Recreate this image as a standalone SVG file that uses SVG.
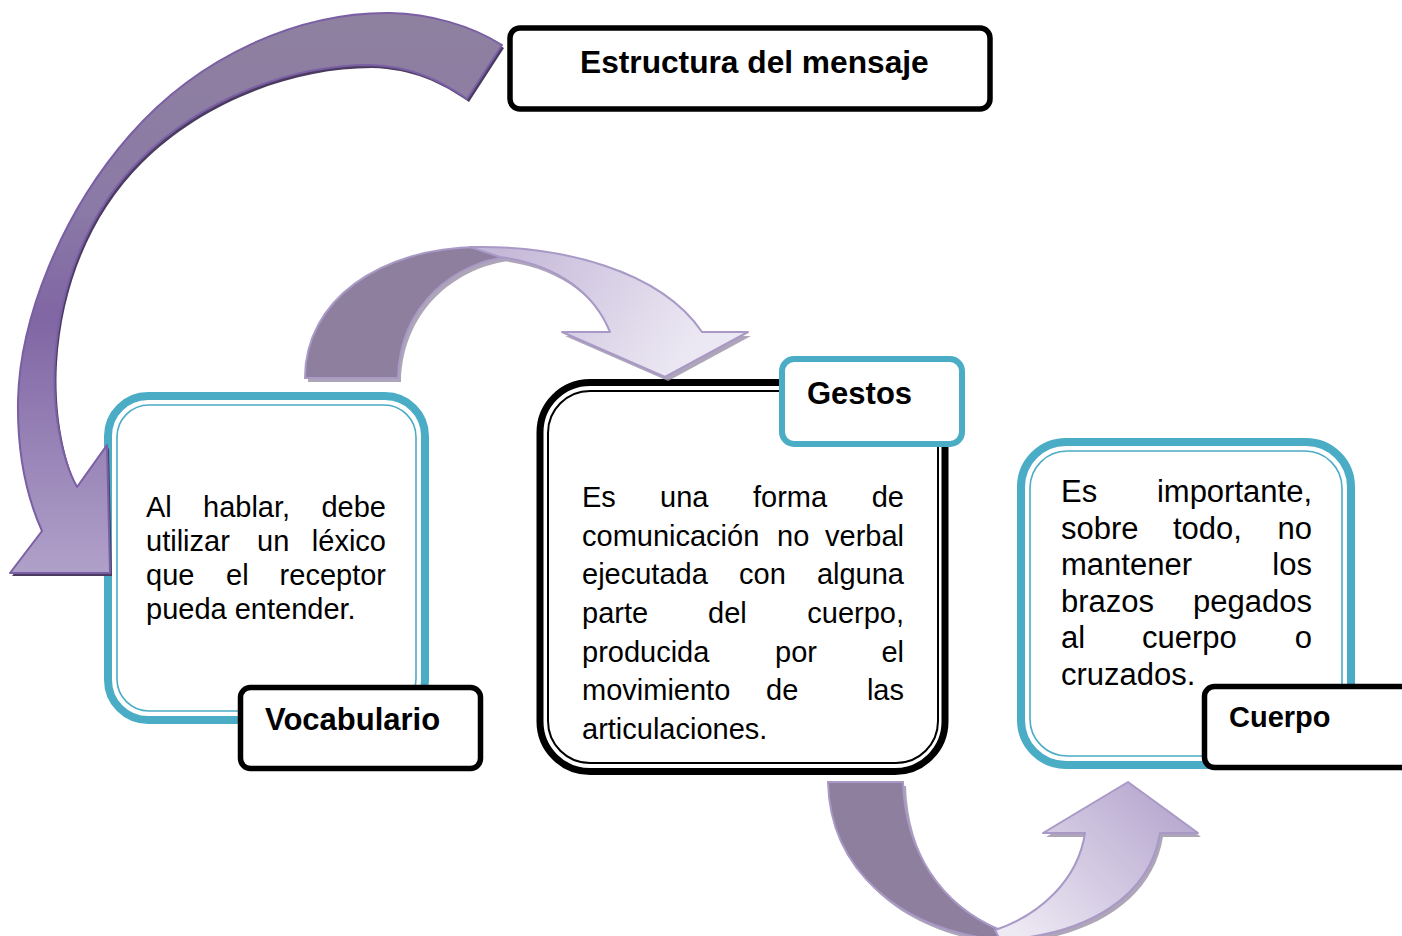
<svg xmlns="http://www.w3.org/2000/svg" width="1402" height="936" viewBox="0 0 1402 936">
<defs>
<linearGradient id="gBig" gradientUnits="userSpaceOnUse" x1="0" y1="0" x2="0" y2="580">
<stop offset="0" stop-color="#8f819f"/>
<stop offset="0.35" stop-color="#8b7aa6"/>
<stop offset="0.55" stop-color="#8066a4"/>
<stop offset="1" stop-color="#b1a2ca"/>
</linearGradient>
<linearGradient id="gMid" gradientUnits="userSpaceOnUse" x1="500" y1="250" x2="680" y2="370">
<stop offset="0" stop-color="#c4b8d8"/>
<stop offset="1" stop-color="#ece8f3"/>
</linearGradient>
<linearGradient id="gBot" gradientUnits="userSpaceOnUse" x1="1010" y1="930" x2="1150" y2="790">
<stop offset="0" stop-color="#eeeaf4"/>
<stop offset="1" stop-color="#b9abd1"/>
</linearGradient>
<style>
.teal{fill:#fff;stroke:#4bacc6;stroke-width:8}
.tealthin{fill:none;stroke:#4bacc6;stroke-width:1.6}
.lbl{fill:#fff;stroke:#000;stroke-width:5.5}
.body{font-family:"Liberation Sans",Arial,sans-serif;fill:#000}
.head{font-family:"Liberation Sans",Arial,sans-serif;font-weight:bold;fill:#000}
.dark{fill:#8e7f9e;stroke:#a899c6;stroke-width:2}
.shadow{fill:#9a90a6;opacity:0.8}
</style>
</defs>

<g id="title">
<rect class="lbl" x="510" y="28" width="480" height="81" rx="10" stroke-width="6"/>
<text class="head" x="580" y="73" font-size="31.7">Estructura del mensaje</text>
</g>

<g id="vocabulario">
<rect class="teal" x="108" y="396" width="317" height="324" rx="40"/>
<rect class="tealthin" x="117" y="405" width="299" height="306" rx="32"/>
<g class="body" font-size="29">
<text x="146" y="517">Al</text><text x="203" y="517">hablar,</text><text x="386" y="517" text-anchor="end">debe</text>
<text x="146" y="551">utilizar</text><text x="257" y="551">un</text><text x="386" y="551" text-anchor="end">léxico</text>
<text x="146" y="585">que</text><text x="226" y="585">el</text><text x="386" y="585" text-anchor="end">receptor</text>
<text x="146" y="619">pueda entender.</text>
</g>
<rect class="lbl" x="240.5" y="687.5" width="240" height="81" rx="10"/>
<text class="head" x="265" y="730" font-size="31">Vocabulario</text>
</g>

<g id="gestos">
<rect x="540" y="382.5" width="405" height="389" rx="50" fill="#fff" stroke="#000" stroke-width="7"/>
<rect x="548" y="391" width="390" height="372" rx="42" fill="none" stroke="#000" stroke-width="2"/>
<g class="body" font-size="29">
<text x="582" y="507">Es</text><text x="660" y="507">una</text><text x="753" y="507">forma</text><text x="904" y="507" text-anchor="end">de</text>
<text x="582" y="546">comunicación</text><text x="777" y="546">no</text><text x="904" y="546" text-anchor="end">verbal</text>
<text x="582" y="584">ejecutada</text><text x="739" y="584">con</text><text x="904" y="584" text-anchor="end">alguna</text>
<text x="582" y="623">parte</text><text x="708" y="623">del</text><text x="904" y="623" text-anchor="end">cuerpo,</text>
<text x="582" y="662">producida</text><text x="775" y="662">por</text><text x="904" y="662" text-anchor="end">el</text>
<text x="582" y="700">movimiento</text><text x="766" y="700">de</text><text x="904" y="700" text-anchor="end">las</text>
<text x="582" y="739">articulaciones.</text>
</g>
<rect x="782" y="359" width="180" height="85" rx="12" fill="#fff" stroke="#4bacc6" stroke-width="6"/>
<text class="head" x="807" y="404" font-size="31">Gestos</text>
</g>

<g id="cuerpo">
<rect class="teal" x="1021" y="442" width="330" height="323" rx="45"/>
<rect class="tealthin" x="1030" y="451" width="312" height="305" rx="37"/>
<g class="body" font-size="31">
<text x="1061" y="502">Es</text><text x="1312" y="502" text-anchor="end">importante,</text>
<text x="1061" y="538.5">sobre</text><text x="1173" y="538.5">todo,</text><text x="1312" y="538.5" text-anchor="end">no</text>
<text x="1061" y="575">mantener</text><text x="1312" y="575" text-anchor="end">los</text>
<text x="1061" y="611.5">brazos</text><text x="1312" y="611.5" text-anchor="end">pegados</text>
<text x="1061" y="648">al</text><text x="1142" y="648">cuerpo</text><text x="1312" y="648" text-anchor="end">o</text>
<text x="1061" y="684.5">cruzados.</text>
</g>
<rect class="lbl" x="1204.5" y="686.5" width="230" height="81" rx="10"/>
<text class="head" x="1229" y="727" font-size="29">Cuerpo</text>
</g>

<g id="connectors">
<path id="bigArrow" d="M502,45 C470,25 430,14 390,13 C300,12 200,55 130,135 C60,215 20,320 18,400 C17,460 28,500 42,531 L10,573 L110,573 L107,445 L77,487 C62,460 52,410 55,360 C60,280 90,210 140,160 C200,100 290,65 370,65 C410,66 440,80 467,99 Z" fill="#4a3b5f" transform="translate(2,3)"/>
<path d="M502,45 C470,25 430,14 390,13 C300,12 200,55 130,135 C60,215 20,320 18,400 C17,460 28,500 42,531 L10,573 L110,573 L107,445 L77,487 C62,460 52,410 55,360 C60,280 90,210 140,160 C200,100 290,65 370,65 C410,66 440,80 467,99 Z" fill="url(#gBig)" stroke="#7a5fa4" stroke-width="2" stroke-linejoin="round"/>

<g id="midArrow">
<path class="shadow" transform="translate(3,4)" d="M305,378 C305,300 380,248 478,247 L507,257 C460,262 400,300 398,378 Z M470,247 C560,245 660,270 702,332 L748,332 L665,377 L562,332 L610,332 C595,295 560,265 500,257 Z"/>
<path class="dark" d="M305,378 C305,300 380,248 478,247 L507,257 C460,262 400,300 398,378 Z"/>
<path d="M470,247 C560,245 660,270 702,332 L748,332 L665,377 L562,332 L610,332 C595,295 560,265 500,257 Z" fill="url(#gMid)" stroke="#a899c6" stroke-width="2" stroke-linejoin="round"/>
</g>

<g id="botArrow">
<path class="shadow" transform="translate(3,4)" d="M828,782 L903,782 C905,850 940,905 1000,930 L1000,940 C900,930 830,870 828,782 Z M995,930 C1040,915 1078,880 1085,833 L1043,833 L1128,782 L1198,833 L1160,833 C1150,895 1090,935 1000,940 Z"/>
<path class="dark" d="M828,782 L903,782 C905,850 940,905 1000,930 L1000,940 C900,930 830,870 828,782 Z"/>
<path d="M995,930 C1040,915 1078,880 1085,833 L1043,833 L1128,782 L1198,833 L1160,833 C1150,895 1090,935 1000,940 Z" fill="url(#gBot)" stroke="#a899c6" stroke-width="2" stroke-linejoin="round"/>
</g>
</g>
</svg>
